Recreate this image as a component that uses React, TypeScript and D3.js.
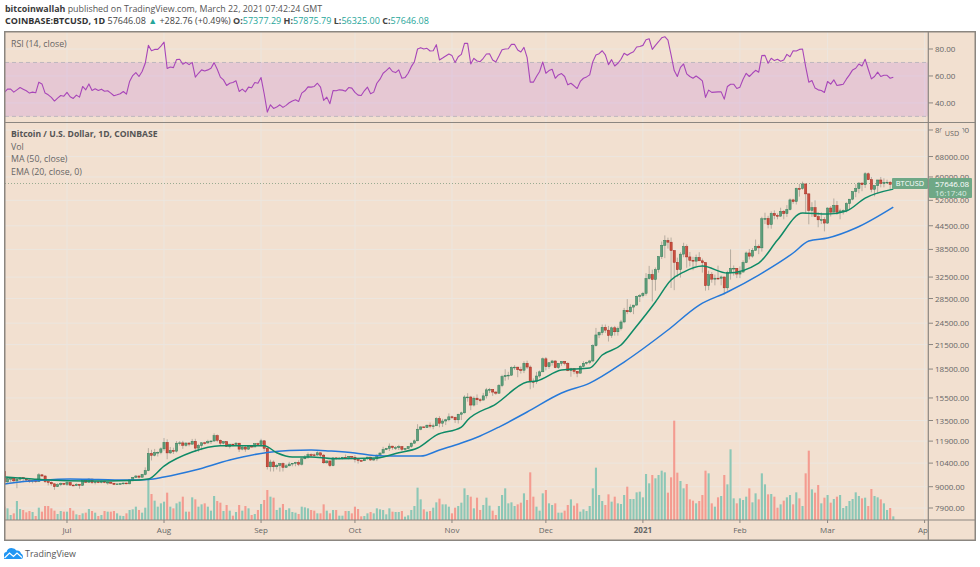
import * as d3 from 'd3';

// daily values, Jun 11 2020 to Mar 22 2021
const startDate = new Date(Date.UTC(2020, 5, 11));
const endDate = new Date(Date.UTC(2021, 3, 1));
const firstOpen = 9890;

const closes = [
  // Jun
  9270, 9465, 9470, 9330, 9425, 9520, 9460, 9375, 9300, 9355, 9285, 9680, 9610, 9285, 9245, 9160, 9000, 9110, 9185, 9135,
  // Jul
  9230, 9090, 9060, 9130, 9075, 9340, 9250, 9430, 9235, 9275, 9235, 9300, 9240, 9250, 9195, 9130, 9155, 9170, 9205, 9160, 9390, 9530, 9610, 9540, 9700, 9930, 11030, 10910, 11100, 11110, 11350,
  // Aug
  11800, 11070, 11230, 11190, 11750, 11770, 11600, 11760, 11680, 11880, 11400, 11580, 11780, 11770, 11860, 11910, 12300, 11960, 11750, 11860, 11520, 11680, 11650, 11750, 11330, 11470, 11330, 11530, 11480, 11710, 11650,
  // Sep
  11920, 11390, 10170, 10470, 10170, 10250, 10370, 10130, 10230, 10340, 10390, 10440, 10330, 10680, 10790, 10950, 10940, 10930, 11080, 10920, 10420, 10540, 10240, 10740, 10690, 10730, 10775, 10700, 10840, 10780,
  // Oct
  10620, 10570, 10550, 10670, 10790, 10600, 10670, 10920, 11060, 11300, 11380, 11540, 11430, 11430, 11500, 11320, 11370, 11510, 11750, 11920, 12800, 12980, 12930, 13120, 13040, 13070, 13650, 13280, 13460, 13560, 13810,
  // Nov
  13760, 13560, 14030, 14150, 15590, 15590, 14840, 15480, 15330, 15300, 15700, 16290, 16330, 16070, 15960, 16730, 17660, 17790, 17820, 18680, 18720, 18430, 18370, 19160, 18730, 17150, 17140, 17730, 18190, 19700,
  // Dec
  18770, 19230, 19440, 18660, 19160, 19380, 19170, 18320, 18550, 18250, 18040, 18810, 19170, 19280, 19440, 21350, 22800, 23130, 23870, 23480, 22730, 23820, 23250, 23720, 24690, 26490, 26280, 27040, 27370, 28880, 29000,
  // Jan
  29410, 32200, 33000, 32020, 34000, 36830, 39460, 40670, 40240, 38240, 35570, 34000, 37400, 39150, 36770, 36010, 35830, 36630, 35900, 35500, 30840, 33000, 32090, 32280, 32270, 32520, 30430, 33430, 34280, 34300, 33110,
  // Feb
  33520, 35510, 37670, 36950, 38290, 39260, 38870, 46450, 46530, 44830, 47970, 47400, 47200, 48600, 47950, 49170, 52140, 51600, 55900, 55890, 57490, 54100, 48890, 49700, 47040, 46150, 46200, 45240,
  // Mar
  49600, 48370, 50370, 48360, 48750, 48880, 50960, 52370, 54880, 55870, 57800, 57230, 61190, 59000, 55650, 56900, 58900, 57650, 58030, 58100, 57363, 57646.08,
];

const highs = [
  9990, 9560, 9495, 9480, 9490, 9540, 9545, 9480, 9395, 9400, 9410, 9785, 9720, 9660, 9340, 9290, 9180, 9190, 9235, 9200,
  9295, 9270, 9130, 9195, 9140, 9375, 9370, 9470, 9450, 9320, 9295, 9340, 9340, 9280, 9275, 9205, 9190, 9200, 9230, 9220, 9430, 9540, 9670, 9645, 9730, 10130, 11400, 11280, 11345, 11170, 11450,
  12130, 12030, 11480, 11430, 11900, 11900, 11920, 11810, 11810, 12060, 12070, 11700, 11800, 11850, 12000, 11930, 12480, 12400, 12020, 11890, 11890, 11690, 11700, 11830, 11770, 11550, 11600, 11590, 11580, 11720, 11780,
  12070, 11950, 11400, 10620, 10570, 10350, 10400, 10440, 10350, 10480, 10400, 10480, 10580, 10760, 10930, 11100, 11040, 11030, 11180, 11060, 10990, 10570, 10540, 10770, 10770, 10780, 10800, 10960, 10860, 10850,
  10920, 10670, 10600, 10700, 10800, 10800, 10680, 10960, 11110, 11490, 11420, 11730, 11560, 11550, 11630, 11550, 11400, 11540, 11800, 12020, 13200, 13030, 13030, 13160, 13340, 13240, 13780, 13860, 13640, 13640, 14100,
  13900, 13820, 14060, 14250, 15750, 15960, 15700, 15650, 15840, 15480, 15990, 16480, 16480, 16350, 16170, 16880, 17860, 18480, 18190, 18800, 18950, 18750, 18770, 19400, 19480, 18920, 17470, 18180, 18350, 19860,
  19920, 19300, 19570, 19500, 19180, 19420, 19420, 19300, 18640, 18550, 18290, 18950, 19420, 19350, 19570, 21540, 23800, 23280, 24300, 24300, 24100, 24000, 24100, 24000, 25000, 26900, 28400, 27500, 27400, 29000, 29300,
  29680, 33300, 34800, 34000, 34450, 36940, 40400, 41950, 41380, 41400, 38240, 36600, 37850, 40100, 39700, 37900, 36800, 37300, 37850, 36400, 35600, 33800, 33500, 33000, 34850, 32800, 32550, 33800, 38500, 34900, 34300,
  34700, 36000, 38000, 38600, 38800, 40900, 39700, 47000, 48200, 47300, 48600, 48900, 48000, 49700, 49000, 50500, 52600, 52500, 56200, 57500, 58300, 57500, 54200, 51400, 52000, 48400, 48300, 46900,
  49800, 50200, 52600, 51800, 49400, 49200, 51400, 52400, 54900, 57400, 58100, 58000, 61800, 61700, 60000, 56950, 58950, 60000, 59500, 59000, 58500, 57875.79,
];

const lows = [
  9080, 9230, 9240, 9240, 8915, 9270, 9240, 9280, 9215, 9190, 9220, 9280, 9570, 9205, 9070, 9050, 8830, 8990, 9030, 9085,
  9040, 9050, 9030, 9060, 8890, 9050, 9205, 9230, 9150, 9130, 9200, 9190, 9195, 9115, 9170, 9090, 9120, 9130, 9120, 9140, 9140, 9310, 9490, 9460, 9530, 9650, 9900, 10570, 10840, 10830, 10980,
  11220, 10650, 11000, 11000, 11100, 11580, 11350, 11500, 11530, 11650, 11150, 11150, 11260, 11650, 11700, 11700, 11840, 11820, 11570, 11670, 11480, 11380, 11520, 11600, 11130, 11250, 11150, 11280, 11440, 11480, 11570,
  11520, 11170, 10000, 9880, 9880, 10000, 9870, 9880, 10120, 10200, 10200, 10200, 10210, 10250, 10650, 10670, 10750, 10820, 10880, 10780, 10360, 10360, 10150, 10200, 10610, 10650, 10640, 10680, 10640, 10660,
  10440, 10370, 10500, 10540, 10620, 10540, 10530, 10530, 10830, 11100, 11260, 11200, 11290, 11270, 11270, 11200, 11230, 11350, 11420, 11710, 11900, 12720, 12890, 12900, 12880, 12800, 13060, 12950, 12980, 13130, 13430,
  13620, 13300, 13250, 13530, 14100, 15150, 14380, 14710, 14850, 15080, 15280, 15450, 15970, 15700, 15800, 15880, 16560, 17220, 17340, 17760, 18400, 17600, 18000, 18050, 18500, 16350, 16510, 16900, 17530, 18180,
  18350, 18530, 18900, 18600, 18510, 18870, 18920, 18260, 17650, 17930, 17600, 18000, 18700, 19000, 19050, 19300, 21230, 22360, 22770, 23070, 21900, 22400, 22700, 22700, 23450, 24500, 25900, 26100, 25900, 27320, 27900,
  28700, 29000, 32000, 28000, 29900, 33400, 36300, 36500, 38700, 30400, 30000, 32500, 32400, 36700, 34400, 34700, 33900, 34700, 35900, 33400, 29900, 30000, 31400, 30900, 31950, 30900, 29200, 29900, 32000, 32800, 32300,
  32300, 33400, 35400, 36200, 36600, 38200, 37400, 38000, 45000, 43800, 43700, 46300, 46300, 47000, 46300, 47000, 48900, 50900, 50700, 53200, 55500, 48000, 44900, 47000, 47000, 44100, 45000, 43000,
  45000, 47100, 48200, 47600, 46300, 47700, 48300, 49300, 52000, 53000, 54300, 55000, 56100, 58900, 54600, 53300, 54100, 56300, 56300, 57700, 55500, 56325,
];

const volumes = [
  40, 35, 15, 20, 57, 33, 30, 23, 27, 24, 12, 37, 25, 42, 42, 35, 28, 18, 27, 25,
  25, 36, 28, 17, 15, 20, 22, 33, 27, 22, 12, 15, 27, 25, 25, 27, 20, 13, 12, 20, 30, 32, 40, 30, 22, 37, 120, 78, 58, 40, 50,
  55, 82, 40, 35, 50, 55, 70, 25, 25, 68, 62, 40, 47, 50, 40, 28, 72, 57, 52, 27, 45, 28, 13, 24, 45, 28, 42, 35, 15, 18,
  30, 48, 60, 90, 70, 67, 30, 37, 48, 30, 35, 24, 22, 18, 40, 38, 35, 30, 28, 20, 20, 47, 28, 20, 30, 30, 13, 13, 27,
  27, 20, 40, 33, 11, 12, 20, 24, 20, 35, 32, 30, 17, 35, 25, 24, 24, 27, 10, 14, 30, 42, 97, 62, 32, 25, 27, 37, 53, 64, 47,
  47, 40, 20, 37, 42, 52, 95, 75, 70, 35, 67, 30, 45, 67, 43, 28, 15, 42, 75, 95, 50, 53, 42, 47, 52, 80, 60, 143, 70, 40,
  28, 80, 90, 50, 45, 50, 22, 22, 28, 45, 62, 43, 50, 25, 32, 27, 42, 95, 157, 75, 57, 45, 77, 55, 70, 50, 48, 75, 100, 63, 63,
  83, 85, 68, 138, 110, 135, 125, 135, 148, 143, 82, 128, 298, 142, 117, 95, 108, 62, 58, 50, 57, 75, 148, 140, 50, 40, 68, 72, 135, 107, 212, 65,
  50, 65, 60, 70, 95, 53, 80, 62, 140, 107, 77, 78, 70, 37, 47, 58, 68, 75, 47, 83, 65, 42, 140, 208, 92, 82, 105, 50,
  67, 75, 52, 63, 70, 75, 36, 42, 57, 63, 83, 72, 65, 67, 42, 93, 72, 68, 62, 50, 30, 36, 11,
];

const rsiValues = [
  47.8, 50.2, 50.2, 48, 49.7, 51.4, 50.2, 49, 47.3, 48, 47.5, 55.4, 54.1, 47.3, 46, 44.1, 41.4, 43.6, 45.5, 45,
  47.8, 44.6, 43.3, 45.8, 44.3, 52.2, 49.7, 54.1, 49.2, 50.5, 49.2, 50.2, 48.7, 49, 47.3, 45.3, 46, 46.8, 48.5, 46.5, 55.9, 60.3, 62.5, 59.6, 63.3, 69.4, 82.7, 78.7, 79.7, 79.7, 82.2,
  85.1, 65.5, 66.7, 66.2, 72.1, 72.4, 68.7, 70.1, 68.4, 70.1, 59.1, 62, 64.5, 63.7, 64.5, 65.7, 69.9, 65, 59.1, 57.1, 52.9, 54.6, 55.1, 56.4, 48.5, 50.2, 48.2, 51.7, 51.2, 55.1, 54.6,
  58.8, 46.8, 33.2, 38.6, 35.9, 36.9, 38.6, 36.7, 38.2, 40.1, 41.4, 42.3, 41.1, 47.3, 49, 51.9, 51.7, 52.2, 54.6, 51.7, 41.8, 44.3, 39.4, 49.2, 49, 49.7, 49.5, 48.7, 51.4, 51,
  47.8, 45.8, 45.5, 49, 51.7, 46.8, 48, 54.6, 57.6, 62, 64, 66.2, 63.3, 62.5, 64.5, 58.3, 58.8, 62, 66.9, 70.6, 80, 81, 80, 80.5, 78.5, 78.7, 83.2, 71.9, 73.3, 74.8, 76.3,
  75.1, 69.9, 74.3, 76, 84.2, 84.2, 68.9, 73.1, 71.1, 70.6, 73.1, 76.3, 76.5, 71.9, 70.4, 74.8, 79.5, 80, 80.2, 83.4, 83.4, 79.2, 77.8, 81.2, 73.8, 55.4, 55.4, 59.6, 63.3, 70.4,
  62, 64, 65, 58.3, 60.8, 61.8, 59.6, 53.4, 54.6, 52.7, 50.7, 55.9, 58.3, 59.3, 60.8, 70.6, 75.6, 76.5, 78.7, 75.6, 68.4, 72.1, 67.4, 69.4, 72.4, 76.8, 75.3, 76.8, 78, 81.5, 81.9,
  82.7, 86.9, 87.6, 79.7, 82.7, 85.4, 88.3, 89.1, 86.6, 75.6, 64, 59.6, 66.4, 68.9, 61.5, 59.6, 58.3, 60, 58.3, 56.4, 44.1, 49.5, 47.8, 48, 48.2, 48.2, 42.8, 52.2, 53.9, 53.9, 50.7,
  51.7, 57.6, 62, 59.6, 62, 64.2, 62.8, 75.1, 75.3, 69.4, 73.1, 71.4, 72.4, 70.9, 71.9, 76, 74.3, 78.7, 78.5, 79.7, 80, 66.9, 55.4, 56.6, 51, 49.7, 49.2, 47.8,
  55.9, 53.9, 57.1, 52.9, 53.4, 53.9, 57.6, 60.8, 64.5, 65.7, 68.9, 67.4, 72.4, 65, 57.8, 59.6, 62.8, 59.6, 60.5, 60.5, 58.3, 59.1,
];

// moving averages, read at the day numbers beside them
const maDays = [0, 5, 11, 21, 30, 40, 46, 51, 61, 72, 84, 91, 98, 104, 112, 118, 125, 133, 139, 146, 152, 158, 167, 178, 187, 198, 212, 222, 231, 241, 252, 257, 263, 272, 284];
const maValues = [9150, 9265, 9350, 9435, 9405, 9375, 9405, 9550, 9970, 10600, 11100, 11235, 11270, 11200, 11065, 10895, 10860, 10860, 11270, 11760, 12280, 12970, 14220, 15975, 16980, 19315, 23500, 27380, 29660, 32910, 37660, 40520, 41280, 43890, 49900];
const emaDays = [0, 9, 14, 26, 40, 46, 51, 60, 69, 83, 87, 92, 98, 105, 119, 126, 132, 138, 146, 148, 157, 167, 170, 178, 187, 191, 197, 201, 208, 213, 217, 223, 231, 241, 247, 255, 263, 269, 275, 284];
const emaValues = [9550, 9435, 9375, 9320, 9350, 9435, 10215, 11130, 11570, 11570, 11085, 10795, 10795, 10685, 10730, 11085, 11405, 12350, 12970, 13545, 14935, 17090, 17195, 18390, 18620, 20160, 21430, 23500, 27890, 31915, 33510, 34760, 33310, 35410, 40760, 48100, 47800, 48700, 52730, 55700];

const priceTicks = [7900, 9000, 10400, 11900, 13500, 15500, 18500, 21500, 24500, 28500, 32500, 38500, 44500, 52000, 60000, 68000, 80000];
const rsiTicks = [80, 60, 40];
const monthLabels = ['Jul', 'Aug', 'Sep', 'Oct', 'Nov', 'Dec', '2021', 'Feb', 'Mar', 'Apr'];
const monthDates = [[2020, 6], [2020, 7], [2020, 8], [2020, 9], [2020, 10], [2020, 11], [2021, 0], [2021, 1], [2021, 2], [2021, 3]];

const BG = '#f2e0d0';
const GRID = '#ece6df';
const FRAME = '#8b8680';
const AXIS_TEXT = '#666666';
const TAG_GREEN = '#6fa886';
const FONT = '"Open Sans", "Noto Sans", sans-serif';
const LABEL_SIZE = 8.8;
const AXIS_SIZE = 8;

const xScale = d3.scaleUtc().domain([startDate, endDate]).range([4.4, 924.6]);
const yPrice = d3.scaleLog().domain([7900, 80000]).range([508, 130]);
const yVolume = d3.scaleLinear().domain([0, 300]).range([520, 420]);
const yRsi = d3.scaleLinear().domain([30, 80]).range([116.4, 49]);

const dayX = (i: number) => xScale(d3.utcDay.offset(startDate, i));

const rsiLine = d3
  .line<number>()
  .x((_, i) => dayX(i))
  .y((d) => yRsi(d));

const priceCurve = (days: number[]) =>
  d3
    .line<number>()
    .x((_, i) => dayX(days[i]))
    .y((d) => yPrice(d))
    .curve(d3.curveMonotoneX);

const monthX = monthDates.map(([y, m]) => xScale(new Date(Date.UTC(y, m, 1))));

export default function App() {
  return (
    <svg
      width={980}
      height={567}
      viewBox="0 0 980 567"
      style={{ position: 'absolute', left: 0, top: 0, display: 'block', background: '#fff' }}
      fontFamily={FONT}
    >
      <defs>
        <clipPath id="rsi-clip">
          <rect x={5} y={32} width={923} height={90} />
        </clipPath>
        <clipPath id="main-clip">
          <rect x={5} y={123} width={923} height={397} />
        </clipPath>
        <clipPath id="time-clip">
          <rect x={5} y={520} width={923} height={20} />
        </clipPath>
      </defs>

      {/* header */}
      <text x={5} y={12} fontSize={8.9} fill="#555">
        <tspan fontWeight={700} fill="#3a3a3a">bitcoinwallah</tspan>
        <tspan> published on TradingView.com, March 22, 2021 07:42:24 GMT</tspan>
      </text>
      <text x={5} y={24} fontSize={9} fill="#444">
        <tspan fontWeight={700} fill="#333">COINBASE:BTCUSD, 1D</tspan>
        <tspan> 57646.08 </tspan>
        <tspan fill="#26a69a">▲</tspan>
        <tspan> +282.76 (+0.49%) </tspan>
        <tspan fontWeight={700}>O:</tspan>
        <tspan fill="#26a69a">57377.29 </tspan>
        <tspan fontWeight={700}>H:</tspan>
        <tspan fill="#26a69a">57875.79 </tspan>
        <tspan fontWeight={700}>L:</tspan>
        <tspan fill="#26a69a">56325.00 </tspan>
        <tspan fontWeight={700}>C:</tspan>
        <tspan fill="#26a69a">57646.08</tspan>
      </text>

      <rect x={5} y={32} width={970} height={508} fill={BG} />

      {/* grid */}
      {monthX.map((x, i) => (
        <g key={monthLabels[i]}>
          <line x1={x} x2={x} y1={32} y2={122} stroke={GRID} strokeWidth={1} />
          <line x1={x} x2={x} y1={123} y2={520} stroke={GRID} strokeWidth={1} />
        </g>
      ))}
      {rsiTicks.map((t) => (
        <line key={t} x1={5} x2={928} y1={yRsi(t)} y2={yRsi(t)} stroke={GRID} strokeWidth={1} />
      ))}
      {priceTicks.map((t) => (
        <line key={t} x1={5} x2={928} y1={yPrice(t)} y2={yPrice(t)} stroke={GRID} strokeWidth={1} />
      ))}

      {/* rsi pane */}
      <rect x={5} y={yRsi(70)} width={923} height={yRsi(30) - yRsi(70)} fill="rgba(187,104,223,0.2)" />
      {[70, 30].map((t) => (
        <line key={t} x1={5} x2={928} y1={yRsi(t)} y2={yRsi(t)} stroke="#b9b3bb" strokeWidth={0.9} strokeDasharray="4 3" />
      ))}
      <path
        d={rsiLine(rsiValues) ?? ''}
        fill="none"
        stroke="#a846b8"
        strokeWidth={1.1}
        strokeLinejoin="round"
        clipPath="url(#rsi-clip)"
      />
      <text x={11} y={47} fontSize={LABEL_SIZE} fill={AXIS_TEXT}>RSI (14, close)</text>

      {/* main pane */}
      <g clipPath="url(#main-clip)">
        {volumes.map((v, i) => {
          const open = i === 0 ? firstOpen : closes[i - 1];
          return (
            <rect
              key={i}
              x={dayX(i) - 1.05}
              y={yVolume(v)}
              width={2.1}
              height={yVolume(0) - yVolume(v)}
              fill={closes[i] >= open ? '#8cc7b6' : '#f49b90'}
            />
          );
        })}
        <line x1={5} x2={928} y1={yPrice(closes[closes.length - 1])} y2={yPrice(closes[closes.length - 1])} stroke="#8fa58a" strokeWidth={0.9} strokeDasharray="1 2" />
        {closes.map((c, i) => {
          const open = i === 0 ? firstOpen : closes[i - 1];
          const up = c >= open;
          const top = yPrice(Math.max(open, c));
          const bottom = yPrice(Math.min(open, c));
          const x = dayX(i);
          return (
            <g key={i}>
              <line x1={x} x2={x} y1={yPrice(highs[i])} y2={yPrice(lows[i])} stroke="#77746c" strokeOpacity={0.6} strokeWidth={0.8} />
              <rect
                x={x - 1.1}
                y={top}
                width={2.2}
                height={Math.max(bottom - top, 0.8)}
                fill={up ? '#5f9e7b' : '#c9503f'}
                stroke={up ? '#2f7d58' : '#a5281f'}
                strokeWidth={0.5}
              />
            </g>
          );
        })}
        <path d={priceCurve(maDays)(maValues) ?? ''} fill="none" stroke="#2679d9" strokeWidth={1.5} />
        <path d={priceCurve(emaDays)(emaValues) ?? ''} fill="none" stroke="#0e8a66" strokeWidth={1.5} />
      </g>
      <text x={11} y={137} fontSize={8.6} fontWeight={700} fill="#555">Bitcoin / U.S. Dollar, 1D, COINBASE</text>
      <text x={11} y={150} fontSize={LABEL_SIZE} fill={AXIS_TEXT}>Vol</text>
      <text x={11} y={162} fontSize={LABEL_SIZE} fill={AXIS_TEXT}>MA (50, close)</text>
      <text x={11} y={174.5} fontSize={LABEL_SIZE} fill={AXIS_TEXT}>EMA (20, close, 0)</text>

      {/* price axis */}
      {rsiTicks.map((t) => (
        <g key={t}>
          <line x1={928} x2={933} y1={yRsi(t)} y2={yRsi(t)} stroke={FRAME} />
          <text x={935} y={yRsi(t) + 3} fontSize={AXIS_SIZE} fill={AXIS_TEXT}>{t.toFixed(2)}</text>
        </g>
      ))}
      {priceTicks.map((t) => (
        <g key={t}>
          <line x1={928} x2={933} y1={yPrice(t)} y2={yPrice(t)} stroke={FRAME} />
          <text x={935} y={yPrice(t) + 3} fontSize={AXIS_SIZE} fill={AXIS_TEXT}>{t.toFixed(2)}</text>
        </g>
      ))}

      {/* time axis */}
      <g clipPath="url(#time-clip)">
        {monthX.map((x, i) => (
          <g key={monthLabels[i]}>
            <line x1={x} x2={x} y1={520} y2={523} stroke={FRAME} />
            <text
              x={x}
              y={533}
              fontSize={AXIS_SIZE}
              textAnchor="middle"
              fontWeight={monthLabels[i] === '2021' ? 700 : 400}
              fill={AXIS_TEXT}
            >
              {monthLabels[i]}
            </text>
          </g>
        ))}
      </g>

      {/* last price tags */}
      <rect x={892} y={178} width={36} height={11} rx={1} fill={TAG_GREEN} />
      <text x={910} y={186.3} fontSize={7.4} textAnchor="middle" fill="#fff">BTCUSD</text>
      <rect x={929} y={178} width={43} height={20} rx={1} fill={TAG_GREEN} />
      <text x={935} y={186.5} fontSize={AXIS_SIZE} fill="#fff">57646.08</text>
      <text x={935} y={195.5} fontSize={AXIS_SIZE} fill="#dcebe1">16:17:40</text>
      <rect x={941} y={128} width={22} height={10.5} rx={3} fill={BG} stroke="#e9e2da" />
      <text x={952} y={136} fontSize={7.2} textAnchor="middle" fill={AXIS_TEXT}>USD</text>

      {/* frame */}
      <rect x={4.75} y={31.75} width={970.5} height={508.5} fill="none" stroke={FRAME} strokeWidth={1.5} />
      <line x1={5} x2={975} y1={122.5} y2={122.5} stroke={FRAME} strokeWidth={1.2} />
      <line x1={5} x2={975} y1={520} y2={520} stroke={FRAME} strokeWidth={1.2} />
      <line x1={928.3} x2={928.3} y1={32} y2={540} stroke={FRAME} strokeWidth={1.2} />

      {/* logo */}
      <path
        d="M4 559 L4 554.5 Q4 552 6.5 552 Q7.5 548 11.5 548 Q15 548 16.5 550.5 Q20 550 21 553.5 Q23 554.5 23 556.5 Q23 559 20.5 559 Z"
        fill="#2196f3"
      />
      <path d="M4.5 558 L9.5 553 L13.5 556.5 L17 553 L22 557.5" fill="none" stroke="#fff" strokeWidth={1.2} />
      <text x={25} y={557} fontSize={8.9} fill="#555">TradingView</text>
    </svg>
  );
}
